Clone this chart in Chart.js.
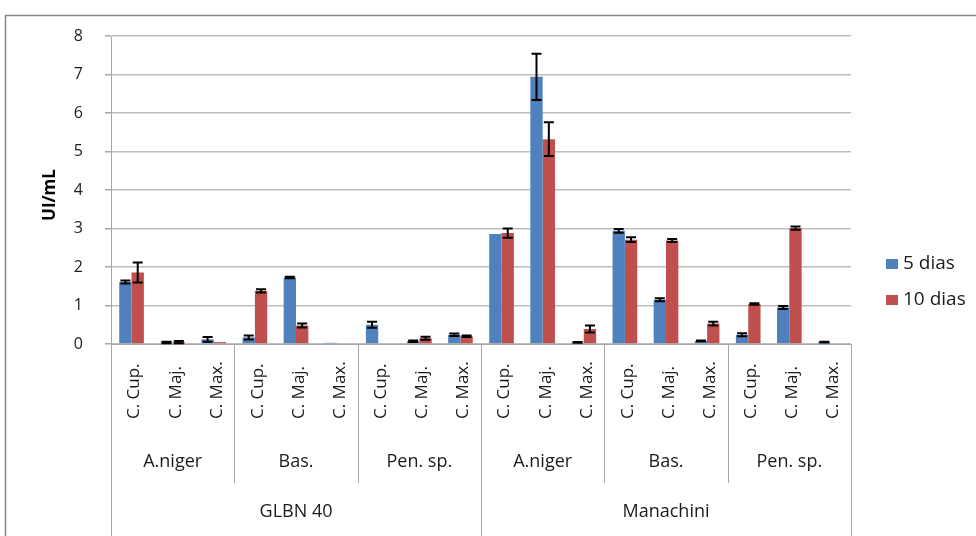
<!DOCTYPE html>
<html>
<head>
<meta charset="utf-8">
<script src="https://cdn.jsdelivr.net/npm/chart.js@4"></script>
<style>
  html, body { margin: 0; padding: 0; background: #fff; }
  #wrap { position: relative; width: 976px; height: 536px; }
</style>
</head>
<body>
<div id="wrap"><canvas id="chart" width="976" height="536"></canvas></div>
<script>
// data
const species = ['C. Cup.', 'C. Maj.', 'C. Max.',
                 'C. Cup.', 'C. Maj.', 'C. Max.',
                 'C. Cup.', 'C. Maj.', 'C. Max.',
                 'C. Cup.', 'C. Maj.', 'C. Max.',
                 'C. Cup.', 'C. Maj.', 'C. Max.',
                 'C. Cup.', 'C. Maj.', 'C. Max.'];
const fungi = ['A.niger', 'Bas.', 'Pen. sp.', 'A.niger', 'Bas.', 'Pen. sp.'];
const substrates = ['GLBN 40', 'Manachini'];
const seriesNames = ['5 dias', '10 dias'];
const yTicks = [0, 1, 2, 3, 4, 5, 6, 7, 8];
const yTitle = 'UI/mL';

const dias5 = [1.61, 0.04, 0.12, 0.17, 1.73, 0.03, 0.50, 0.07, 0.24,
               2.86, 6.94, 0.04, 2.94, 1.15, 0.08, 0.24, 0.95, 0.05];
const err5 = [0.04, 0.02, 0.06, 0.05, 0.02, 0, 0.08, 0.02, 0.03,
              0, 0.60, 0.01, 0.05, 0.04, 0.01, 0.04, 0.04, 0.01];
const dias10 = [1.86, 0.05, 0.05, 1.38, 0.48, 0.02, 0, 0.15, 0.20,
                2.88, 5.32, 0.39, 2.71, 2.69, 0.53, 1.04, 3.01, 0.02];
const err10 = [0.26, 0.03, 0, 0.04, 0.05, 0, 0, 0.04, 0.02,
               0.12, 0.44, 0.09, 0.06, 0.04, 0.05, 0.02, 0.04, 0];

const colors = ['#4F81BD', '#C0504D'];
const FONT = '"Open Sans", sans-serif';

// error bars on top of each bar
const errorBars = {
  id: 'errorBars',
  afterDatasetsDraw(chart) {
    const ctx = chart.ctx;
    const y = chart.scales.y;
    const errs = [err5, err10];
    ctx.save();
    ctx.strokeStyle = '#000';
    ctx.lineWidth = 2;
    chart.data.datasets.forEach((ds, di) => {
      chart.getDatasetMeta(di).data.forEach((bar, i) => {
        const e = errs[di][i];
        if (!e) return;
        const v = ds.data[i];
        const top = y.getPixelForValue(v + e);
        const bot = y.getPixelForValue(Math.max(v - e, 0));
        ctx.beginPath();
        ctx.moveTo(bar.x, top); ctx.lineTo(bar.x, bot);
        ctx.moveTo(bar.x - 5, top); ctx.lineTo(bar.x + 5, top);
        ctx.moveTo(bar.x - 5, bot); ctx.lineTo(bar.x + 5, bot);
        ctx.stroke();
      });
    });
    ctx.restore();
  }
};

// multi-level category axis, outer frame, y title, legend
const decor = {
  id: 'decor',
  afterDraw(chart) {
    const ctx = chart.ctx;
    const x = chart.scales.x;
    const area = chart.chartArea;
    const n = species.length;
    const w = (area.right - area.left) / n;
    const edge = i => area.left + i * w;
    ctx.save();

    // outer frame
    ctx.strokeStyle = '#868686';
    ctx.lineWidth = 1.5;
    ctx.beginPath();
    ctx.moveTo(5.5, 540); ctx.lineTo(5.5, 15.5); ctx.lineTo(980, 15.5);
    ctx.stroke();

    // separators
    ctx.strokeStyle = '#A6A6A6';
    ctx.lineWidth = 1;
    for (let g = 0; g <= fungi.length; g++) {
      const px = Math.round(edge(g * 3)) + 0.5;
      const full = g % 3 === 0;
      ctx.beginPath();
      ctx.moveTo(px, area.bottom);
      ctx.lineTo(px, full ? 540 : 483);
      ctx.stroke();
    }

    ctx.fillStyle = '#1a1a1a';
    // rotated species labels
    ctx.font = '17px ' + FONT;
    ctx.textAlign = 'left';
    ctx.textBaseline = 'middle';
    species.forEach((s, i) => {
      ctx.save();
      ctx.translate(x.getPixelForValue(i) + 3, 419);
      ctx.rotate(-Math.PI / 2);
      ctx.fillText(s, 0, 0);
      ctx.restore();
    });

    ctx.textAlign = 'center';
    ctx.font = '18px ' + FONT;
    fungi.forEach((f, g) => {
      ctx.fillText(f, (edge(g * 3) + edge(g * 3 + 3)) / 2, 462);
    });
    substrates.forEach((s, k) => {
      ctx.fillText(s, (edge(k * 9) + edge(k * 9 + 9)) / 2, 512);
    });

    // y title
    ctx.save();
    ctx.translate(50, 195);
    ctx.rotate(-Math.PI / 2);
    ctx.fillStyle = '#000';
    ctx.font = 'bold 17px ' + FONT;
    ctx.fillText(yTitle, 0, 0);
    ctx.restore();

    // legend
    ctx.textAlign = 'left';
    ctx.font = '19px ' + FONT;
    seriesNames.forEach((s, k) => {
      const cy = 264 + k * 36;
      ctx.fillStyle = colors[k];
      ctx.fillRect(886, cy - 5, 12, 10);
      ctx.fillStyle = '#1a1a1a';
      ctx.fillText(s, 903, cy);
    });
    ctx.restore();
  }
};

new Chart(document.getElementById('chart'), {
  type: 'bar',
  data: {
    labels: species,
    datasets: [
      { label: seriesNames[0], data: dias5, backgroundColor: colors[0] },
      { label: seriesNames[1], data: dias10, backgroundColor: colors[1] }
    ]
  },
  options: {
    responsive: false,
    animation: false,
    layout: { padding: { left: 0, top: 36, right: 125, bottom: 0 } },
    datasets: { bar: { categoryPercentage: 0.6, barPercentage: 1.0 } },
    plugins: {
      legend: { display: false },
      tooltip: { enabled: false }
    },
    scales: {
      x: {
        grid: { display: false },
        ticks: { display: false },
        border: { color: '#A6A6A6' },
        afterFit(scale) { scale.height = 192; }
      },
      y: {
        min: 0,
        max: 8,
        afterBuildTicks(scale) { scale.ticks = yTicks.map(v => ({ value: v })); },
        afterFit(scale) { scale.width = 111; },
        grid: { color: '#BDBDBD', lineWidth: 1.5, tickLength: 6, tickColor: '#A6A6A6' },
        border: { color: '#A6A6A6' },
        ticks: { color: '#222', font: { family: FONT, size: 16 }, padding: 22 }
      }
    }
  },
  plugins: [errorBars, decor]
});
</script>
</body>
</html>
